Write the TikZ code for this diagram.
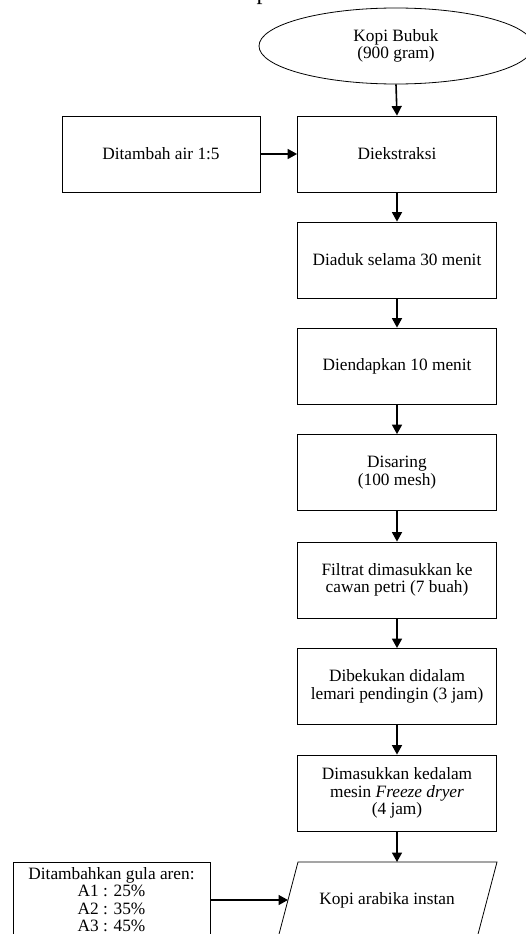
\documentclass[tikz,border=0pt]{standalone}
\usepackage{fontspec}
\setmainfont{Liberation Serif}
\usetikzlibrary{arrows.meta,shapes.geometric}
\begin{document}
\begin{tikzpicture}[x=1pt,y=-1pt,
  txt/.style={align=center, font=\fontsize{17.3}{17.4}\selectfont},
  box/.style={txt, draw, line width=0.8pt, minimum width=199pt, minimum height=76pt, inner sep=0pt},
  arr/.style={-{Triangle[length=9.5pt,width=10pt]}, line width=1.6pt}]
\useasboundingbox (0,0) rectangle (526,934);
% cut-off title fragment
\node[anchor=base west, inner sep=0pt, font=\fontsize{24}{24}\selectfont] (title) at (256.5,-0.8) {p};
\node[txt, draw, ellipse, line width=0.8pt, minimum width=274pt, minimum height=76pt, inner sep=0pt] (kopi) at (396,46) {Kopi Bubuk\\(900 gram)};
\node[box] (ekstr) at (397,154) {Diekstraksi};
\node[box, minimum width=198pt] (air) at (161,154) {Ditambah air 1:5};
\node[box] (aduk) at (397,260) {Diaduk selama 30 menit};
\node[box] (endap) at (397,366) {Diendapkan 10 menit};
\node[box] (saring) at (397,472.5) {Disaring\\(100 mesh)};
\node[box] (filtrat) at (397,580) {Filtrat dimasukkan ke\\cawan petri (7 buah)};
\node[box] (beku) at (397,686.5) {Dibekukan didalam\\lemari pendingin (3 jam)};
\node[box] (dryer) at (397,793) {Dimasukkan kedalam\\mesin \textit{Freeze dryer}\\(4 jam)};
\node[box, minimum width=197pt, minimum height=78pt] (gula) at (111.5,901) {};
\node[txt, inner sep=0pt] (gulatxt) at (111.5,899.5) {Ditambahkan gula aren:\\A1 : 25\%\\A2 : 35\%\\A3 : 45\%};
% parallelogram
\coordinate (p1) at (298,862);
\coordinate (p2) at (497,862);
\coordinate (p3) at (477,938);
\coordinate (p4) at (278,938);
\draw[line width=0.8pt] (p1) -- (p2) -- (p3) -- (p4) -- cycle;
\node[txt] (instan) at (387,900) {Kopi arabika instan};
\coordinate (ptop) at (397,862);
\coordinate (pleft) at (288,900);
% connectors
\draw[arr] (kopi.south) -- (ekstr.north);
\draw[arr] (air.east) -- (ekstr.west);
\draw[arr] (ekstr.south) -- (aduk.north);
\draw[arr] (aduk.south) -- (endap.north);
\draw[arr] (endap.south) -- (saring.north);
\draw[arr] (saring.south) -- (filtrat.north);
\draw[arr] (filtrat.south) -- (beku.north);
\draw[arr] (beku.south) -- (dryer.north);
\draw[arr] (dryer.south) -- (ptop);
\draw[arr] (gula.east |- pleft) -- (pleft);
\end{tikzpicture}
\end{document}
